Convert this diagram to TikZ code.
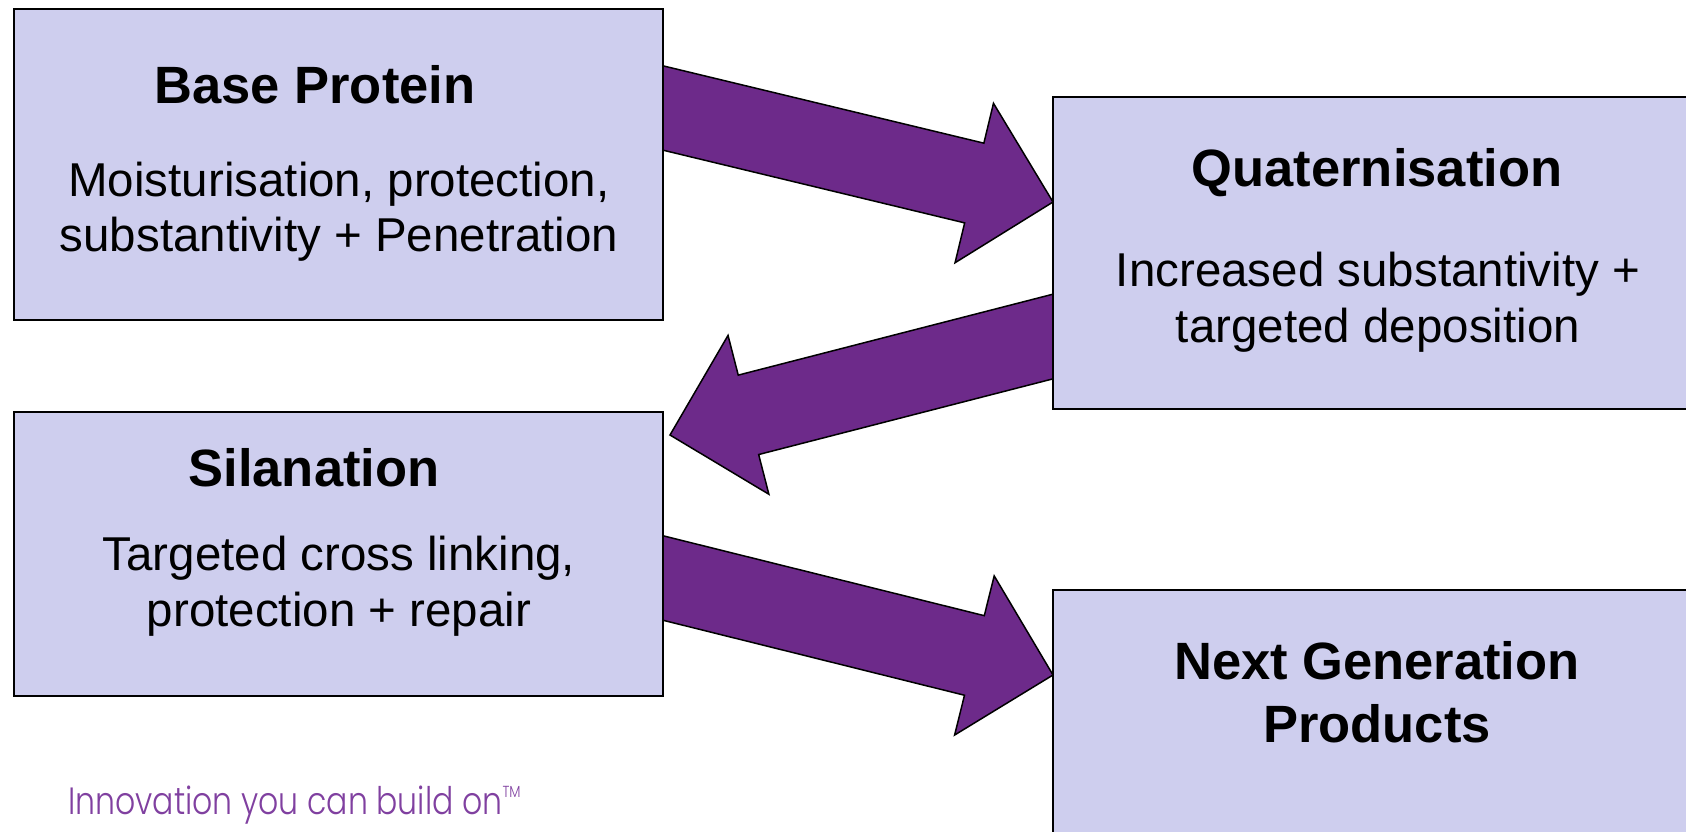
\documentclass[tikz,border=0pt]{standalone}
\usepackage{fontspec}
\setmainfont{Liberation Sans}
\newfontfamily\tagfont{Poppins}[UprightFont={* Light}, FakeStretch=0.83]
\usetikzlibrary{calc,backgrounds}

\definecolor{boxfill}{RGB}{206,206,238}
\definecolor{arrowpurple}{RGB}{109,42,138}
\definecolor{tagpurple}{RGB}{128,64,160}

\tikzset{
  stagebox/.style={draw=black, line width=1.8pt, fill=boxfill, rectangle,
    inner sep=0pt, outer sep=0pt},
  titletext/.style={font=\fontsize{52.5}{62}\selectfont\bfseries, anchor=base,
    inner sep=0pt},
  bodytext/.style={font=\fontsize{47.5}{55}\selectfont, anchor=base, inner sep=0pt},
  fatarrow/.style={fill=arrowpurple, draw=black, line width=1.5pt, line join=miter},
}

% Block arrow from a tail point (#1) to a tip point (#2):
% shaft half-width 41, head length 81, head half-width 82
\newcommand{\blockarrow}[2]{%
  \coordinate (tailc) at ($(#1)!-40pt!(#2)$);
  \coordinate (headc) at ($(#2)!81pt!(#1)$);
  \draw[fatarrow]
    ($(tailc)!41pt!90:(#2)$) -- ($(headc)!41pt!90:(#2)$) --
    ($(headc)!82pt!90:(#2)$) -- (#2) --
    ($(headc)!82pt!-90:(#2)$) -- ($(headc)!41pt!-90:(#2)$) --
    ($(tailc)!41pt!-90:(#2)$) -- cycle;
}

\begin{document}
\begin{tikzpicture}[x=1pt, y=-1pt]
  \useasboundingbox (0,0) rectangle (1686,832);
  \clip (0,0) rectangle (1686,832);

  % stage boxes
  \node[stagebox, minimum width=649pt, minimum height=311pt] (base) at (338.5,164.5) {};
  \node[stagebox, minimum width=650pt, minimum height=312pt] (quat) at (1378,253) {};
  \node[stagebox, minimum width=649pt, minimum height=284pt] (sila) at (338.5,554) {};
  \node[stagebox, minimum width=650pt, minimum height=310pt] (next) at (1378,745) {};

  % connecting arrows, tucked behind the boxes
  \coordinate (a1tail) at ([yshift=56.5pt]base.east);
  \coordinate (a1tip)  at ([yshift=51pt]quat.west);
  \coordinate (a2tail) at ([yshift=-83.5pt]quat.west);
  \coordinate (a2tip)  at ([xshift=7pt,yshift=-23pt]sila.north east);
  \coordinate (a3tail) at ([yshift=-24pt]sila.east);
  \coordinate (a3tip)  at ([yshift=70pt]next.west);
  \begin{scope}[on background layer]
    \blockarrow{a1tail}{a1tip}
    \blockarrow{a2tail}{a2tip}
    \blockarrow{a3tail}{a3tip}
  \end{scope}

  % box texts
  \node[titletext] (baseT) at (315,104) {Base Protein};
  \node[bodytext] (baseL1) at (339,196) {Moisturisation, protection,};
  \node[bodytext] (baseL2) at (339,251) {substantivity + Penetration};

  \node[titletext] (quatT) at (1377,186) {Quaternisation};
  \node[bodytext] (quatL1) at (1378,286) {Increased substantivity +};
  \node[bodytext] (quatL2) at (1378,342) {targeted deposition};

  \node[titletext] (silaT) at (314,486) {Silanation};
  \node[bodytext] (silaL1) at (339,570) {Targeted cross linking,};
  \node[bodytext] (silaL2) at (339,626) {protection + repair};

  \node[titletext] (nextT1) at (1377,679) {Next Generation};
  \node[titletext] (nextT2) at (1377,742) {Products};

  % tagline
  \node[anchor=base west, inner sep=0pt, text=tagpurple,
        font=\tagfont\fontsize{38}{44}\selectfont] (tag) at (68,814)
    {Innovation you can build on\raisebox{17pt}{\fontsize{16}{16}\selectfont TM}};
\end{tikzpicture}
\end{document}
